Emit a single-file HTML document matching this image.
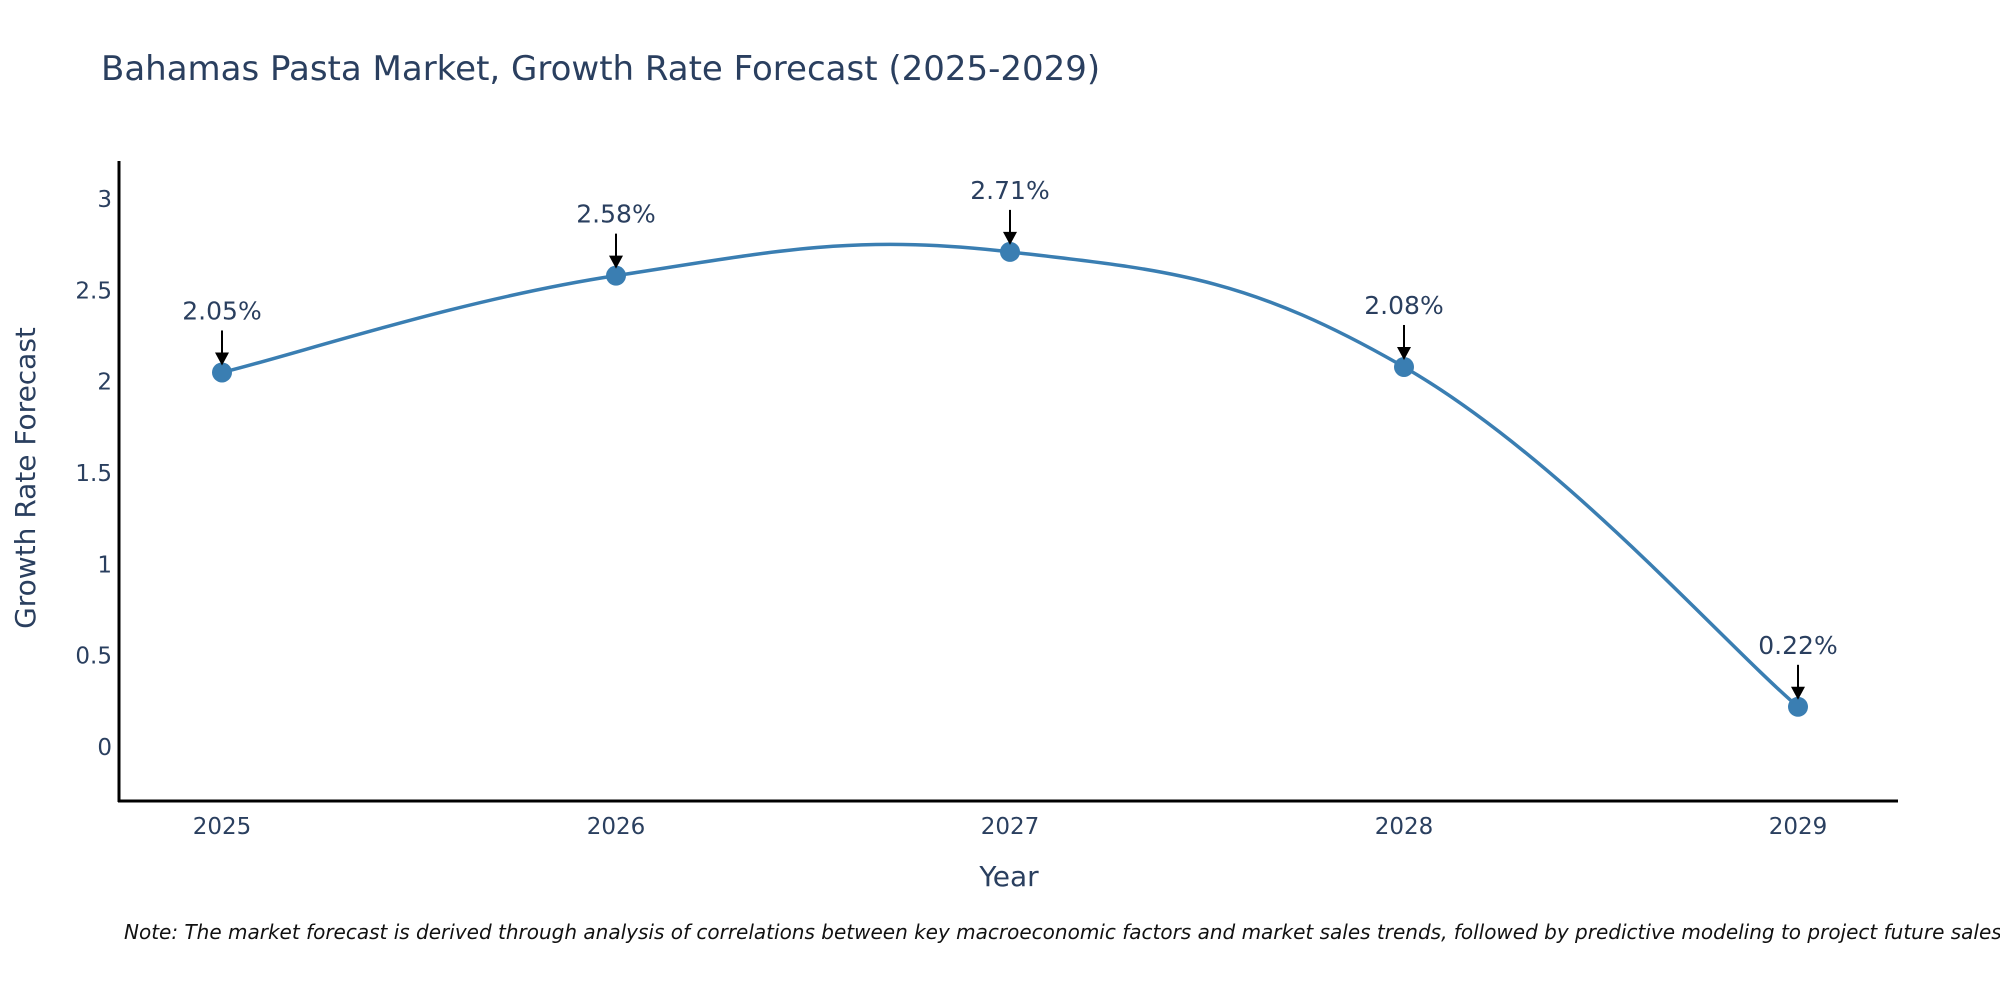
<!DOCTYPE html>
<html><head><meta charset="utf-8"><style>
body{margin:0;background:#fff;}
svg text{font-family:"DejaVu Sans","Liberation Sans",sans-serif;fill:#2a3f5f;}
</style></head><body>
<svg id="chart" width="2000" height="1000">
<text x="101" y="80" font-size="34">Bahamas Pasta Market, Growth Rate Forecast (2025-2029)</text>
<g id="yticks"></g><g id="xticks"></g>
<line x1="119" y1="161" x2="119" y2="802" stroke="#000" stroke-width="3"/>
<line x1="118" y1="801" x2="1898" y2="801" stroke="#000" stroke-width="3"/>
<path id="line" fill="none" stroke="#3a7eb2" stroke-width="3.5"/>
<g id="marks"></g>
<text x="0" y="0" font-size="28" text-anchor="middle" transform="translate(35,478) rotate(-90)">Growth Rate Forecast</text>
<text x="1009" y="886" font-size="28" text-anchor="middle">Year</text>
<text x="124" y="939" font-size="20" font-style="italic" style="fill:#111">Note: The market forecast is derived through analysis of correlations between key macroeconomic factors and market sales trends, followed by predictive modeling to project future sales.</text>
</svg>
<script>
const years=[2025,2026,2027,2028,2029];
const values=[2.05,2.58,2.71,2.08,0.22];
const labels=["2.05%","2.58%","2.71%","2.08%","0.22%"];
const yTicks=[0,0.5,1,1.5,2,2.5,3];
const yTickLabels=["0","0.5","1","1.5","2","2.5","3"];
const NS="http://www.w3.org/2000/svg";
function xs(v){return 222+(v-2025)*394;}
function ys(v){return 747-v*182.7;}
function mk(tag,attrs,parent){const e=document.createElementNS(NS,tag);for(const k in attrs)e.setAttribute(k,attrs[k]);parent.appendChild(e);return e;}
const yg=document.getElementById('yticks');
yTicks.forEach((t,i)=>{const e=mk('text',{x:112,y:ys(t)+8,'font-size':23,'text-anchor':'end'},yg);e.textContent=yTickLabels[i];

});
const xg=document.getElementById('xticks');
years.forEach(y=>{const e=mk('text',{x:xs(y),y:834,'font-size':23,'text-anchor':'middle'},xg);e.textContent=String(y);

});
const pts=years.map((y,i)=>[xs(y),ys(values[i])]);
let d=`M${pts[0][0]},${pts[0][1]}`;
for(let i=0;i<pts.length-1;i++){const p0=pts[Math.max(i-1,0)],p1=pts[i],p2=pts[i+1],p3=pts[Math.min(i+2,pts.length-1)];
const t=1/5;
const c1=[p1[0]+(p2[0]-p0[0])*t,p1[1]+(p2[1]-p0[1])*t];
const c2=[p2[0]-(p3[0]-p1[0])*t,p2[1]-(p3[1]-p1[1])*t];
d+=` C${c1[0]},${c1[1]} ${c2[0]},${c2[1]} ${p2[0]},${p2[1]}`;}
document.getElementById('line').setAttribute('d',d);
const mg=document.getElementById('marks');
pts.forEach((p,i)=>{
const c=mk('circle',{cx:p[0],cy:p[1],r:10,fill:'#3a7eb2'},mg);


const l=mk('line',{x1:p[0],y1:p[1]-42,x2:p[0],y2:p[1]-18,stroke:'#000','stroke-width':2},mg);


const a=mk('polygon',{points:`${p[0]-7},${p[1]-20} ${p[0]+7},${p[1]-20} ${p[0]},${p[1]-7}`,fill:'#000'},mg);


const t=mk('text',{x:p[0],y:p[1]-53,'font-size':25,'text-anchor':'middle'},mg);t.textContent=labels[i];


});
</script>
</body></html>
